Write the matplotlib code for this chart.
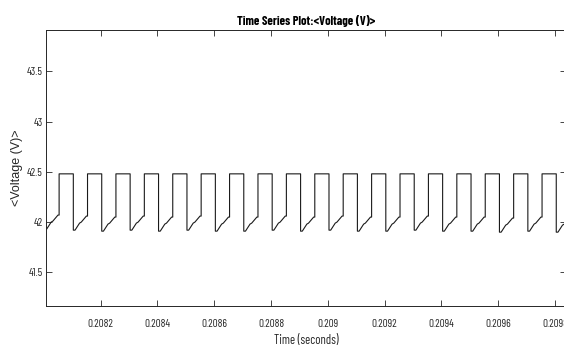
import matplotlib
matplotlib.use('Agg')
import matplotlib.pyplot as plt

# Switching events of the bus voltage (s)
fall_times = [0.208004, 0.208104, 0.208204, 0.208304, 0.208404, 0.208504, 0.208604,
              0.208704, 0.208804, 0.208904, 0.209004, 0.209104, 0.209204, 0.209304,
              0.209404, 0.209504, 0.209604, 0.209704, 0.209804]
rise_times = [0.208054, 0.208154, 0.208254, 0.208354, 0.208454, 0.208554, 0.208654,
              0.208754, 0.208854, 0.208954, 0.209054, 0.209154, 0.209254, 0.209354,
              0.209454, 0.209554, 0.209654, 0.209754, 0.209854]
# lowest voltage right after each drop (V)
low_min = [41.93, 41.92, 41.91, 41.92, 41.91, 41.92, 41.91, 41.91, 41.92, 41.91,
           41.92, 41.91, 41.91, 41.92, 41.91, 41.91, 41.90, 41.91, 41.90]
v_high = 42.48
# recovery ramp after the drop: time after drop (s) and rise above the minimum (V)
ramp_dt = [0.0, 6e-6, 2.2e-5, 2.8e-5, 4.6e-5]
ramp_dv = [0.0, 0.0, 0.07, 0.08, 0.14]

xticks = [0.2082, 0.2084, 0.2086, 0.2088, 0.2090, 0.2092, 0.2094, 0.2096, 0.2098]
xticklabels = ['0.2082', '0.2084', '0.2086', '0.2088', '0.209', '0.2092', '0.2094', '0.2096', '0.2098']
yticks = [41.5, 42.0, 42.5, 43.0, 43.5]
yticklabels = ['41.5', '42', '42.5', '43', '43.5']

# build the stepped waveform
t, v = [], []
for i, tf in enumerate(fall_times):
    vmin = low_min[i]
    for dt, dv in zip(ramp_dt, ramp_dv):
        t.append(tf + dt)
        v.append(vmin + dv)
    tr = rise_times[i]
    t += [tr, tr]
    v += [vmin + ramp_dv[-1], v_high]
    if i + 1 < len(fall_times):
        t.append(fall_times[i + 1])
        v.append(v_high)

narrow = ['Barlow Condensed', 'Roboto Condensed', 'Liberation Sans', 'DejaVu Sans']
plt.rcParams['font.family'] = narrow
axcol = '#262626'

fig = plt.figure(figsize=(5.64, 3.47), dpi=100)
fig.patch.set_facecolor('white')
ax = fig.add_axes([0.0824, 0.118, 0.921, 0.795])
fig.canvas.draw()
rend = fig.canvas.get_renderer()


def size_for(s, width_px, **kw):
    # font size that gives the text the wanted width in pixels
    tmp = fig.text(0, 0, s, fontsize=10, **kw)
    w = tmp.get_window_extent(rend).width
    tmp.remove()
    return 10 * width_px / w


tick_fs = size_for('0.2082', 25.5)
title_fs = size_for('Time Series Plot:<Voltage (V)>', 138, fontweight='bold')
xlab_fs = size_for('Time (seconds)', 65)

ax.plot(t, v, color='#1a1a1a', lw=0.8)

ax.set_xlim(0.2080095, 0.209838)
ax.set_ylim(41.165, 43.909)
ax.set_xticks(xticks)
ax.set_xticklabels(xticklabels)
ax.set_yticks(yticks)
ax.set_yticklabels(yticklabels)

ax.tick_params(direction='in', length=4, width=0.6, colors=axcol, labelsize=tick_fs,
               top=True, right=True)
ax.tick_params(axis='x', pad=9)
ax.tick_params(axis='y', pad=2.5)
for s in ax.spines.values():
    s.set_color(axcol)
    s.set_linewidth(0.7)

ax.set_title('Time Series Plot:<Voltage (V)>', fontsize=title_fs, fontweight='bold', pad=4)
ax.set_xlabel('Time (seconds)', fontsize=xlab_fs, color=axcol, labelpad=4)
ax.set_ylabel('<Voltage (V)>', fontsize=9, color=axcol, labelpad=3,
              family=['Liberation Sans', 'DejaVu Sans'])

fig.savefig('out.png', dpi=100, facecolor='white')
